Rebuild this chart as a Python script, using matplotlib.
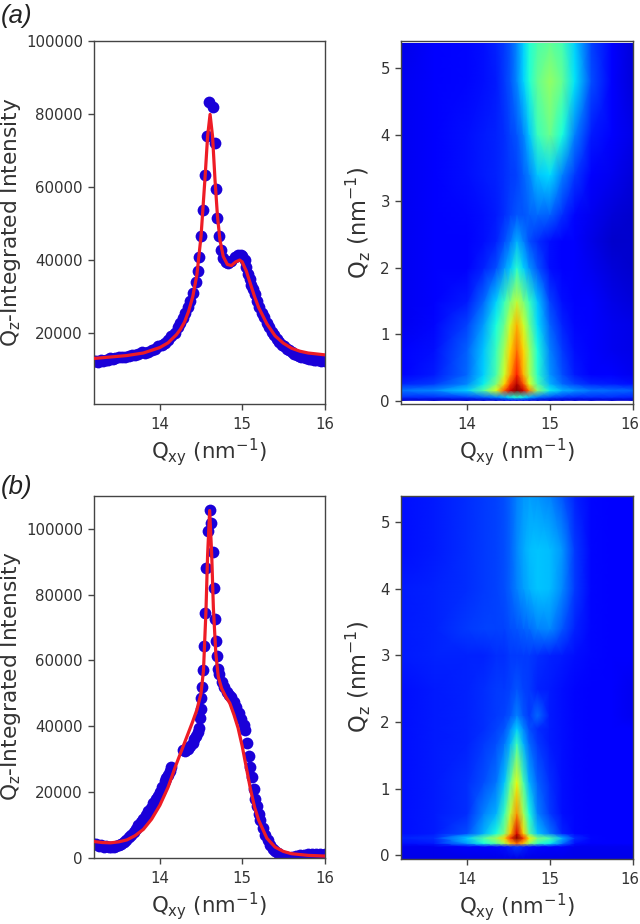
import matplotlib
matplotlib.use('Agg')
import matplotlib.pyplot as plt
from matplotlib.transforms import ScaledTranslation

W, H = 640, 924
TEXT = '#333333'
EDGE = '#444444'

# panel (a), line cut
a_points_x = [13.2, 13.22, 13.25, 13.28, 13.31, 13.34, 13.37, 13.4, 13.43, 13.46, 13.5, 13.54, 13.58, 13.62, 13.66,
              13.7, 13.74, 13.78, 13.82, 13.86, 13.9, 13.94, 13.98, 14.02, 14.06, 14.1, 14.14, 14.18, 14.22, 14.25,
              14.28, 14.31, 14.34, 14.37, 14.4, 14.435, 14.465, 14.475, 14.495, 14.53, 14.55, 14.57, 14.6, 14.645,
              14.665, 14.685, 14.695, 14.72, 14.745, 14.77, 14.8, 14.83, 14.87, 14.91, 14.95, 14.98, 15.0, 15.03,
              15.05, 15.07, 15.09, 15.11, 15.13, 15.15, 15.18, 15.21, 15.24, 15.27, 15.3, 15.33, 15.36, 15.39, 15.42,
              15.45, 15.48, 15.51, 15.54, 15.57, 15.6, 15.63, 15.66, 15.69, 15.72, 15.75, 15.78, 15.81, 15.84, 15.87,
              15.9, 15.93, 15.96, 16.0]
a_points_y = [12200, 12400, 12100, 12500, 12200, 12700, 12600, 13000, 12800, 13200, 13300, 13500, 13400, 13800, 14000,
              13900, 14300, 14700, 14600, 14900, 15300, 15600, 16300, 16800, 17300, 18200, 19200, 20100, 21500, 22800,
              24000, 25500, 27000, 28800, 31000, 33900, 36900, 40800, 46500, 53800, 63400, 74100, 83500, 82000,
              72100, 59500, 51500, 46500, 42900, 40500, 39500, 39200, 39800, 40800, 41300, 41500, 41000, 40000,
              38000, 36200, 34800, 33200, 32000, 30600, 28800, 27000, 25600, 24300, 22800, 21500, 20300, 19400, 18300,
              17600, 16800, 16300, 15500, 15200, 14700, 14300, 14000, 13800, 13500, 13300, 13200, 12900, 12900, 12700,
              12500, 12500, 12300, 12200]
a_fit_x = [13.2, 13.6, 13.8, 14.0, 14.1, 14.2, 14.25, 14.3, 14.35, 14.4, 14.45, 14.5, 14.55, 14.58, 14.61, 14.64,
           14.67, 14.7, 14.73, 14.77, 14.82, 14.87, 14.92, 14.97, 15.0, 15.05, 15.1, 15.15, 15.2, 15.3, 15.4, 15.5,
           15.6, 15.7, 15.8, 16.0]
a_fit_y = [13000, 13800, 14500, 16000, 17300, 19500, 21000, 23000, 26000, 30000, 36000, 46500, 63000, 74000, 80000,
           74000, 62000, 52000, 45500, 41000, 38800, 38500, 39500, 40000, 39500, 37000, 33500, 30000, 27000, 22500,
           19200, 17200, 15800, 15000, 14500, 14000]

# panel (b), line cut
b_points_x = [13.2, 13.23, 13.26, 13.29, 13.32, 13.35, 13.38, 13.41, 13.44, 13.47, 13.5, 13.53, 13.56, 13.59, 13.62,
              13.65, 13.68, 13.71, 13.74, 13.77, 13.8, 13.83, 13.86, 13.89, 13.92, 13.95, 13.98, 14.0, 14.03, 14.06,
              14.08, 14.1, 14.12, 14.14, 14.28, 14.31, 14.34, 14.37, 14.4, 14.42, 14.44, 14.46, 14.47, 14.483, 14.495,
              14.505, 14.51, 14.53, 14.535, 14.55, 14.565, 14.59, 14.605, 14.62, 14.645, 14.66, 14.67, 14.685, 14.695,
              14.705, 14.72, 14.75, 14.78, 14.81, 14.84, 14.87, 14.9, 14.93, 14.96, 14.99, 15.02, 15.04, 15.06, 15.08,
              15.1, 15.12, 15.14, 15.16, 15.18, 15.2, 15.22, 15.25, 15.28, 15.31, 15.34, 15.37, 15.4, 15.43, 15.46,
              15.5, 15.55, 15.6, 15.65, 15.7, 15.75, 15.8, 15.85, 15.9, 15.95, 16.0]
b_points_y = [4300, 4100, 3700, 3900, 3400, 3500, 3200, 3300, 3300, 3500, 3800, 4300, 5000, 5400, 6300,
              7000, 7800, 8800, 10000, 10800, 11900, 13100, 14300, 15300, 16600, 17800, 18900, 20000, 21700, 23300,
              24300, 25300, 26400, 27500, 32700, 32500, 33000, 34000, 35000, 36200, 37000, 38300, 39500, 42500, 45200,
              48600, 52000, 57200, 64500, 74400, 88000, 99400, 105800, 101700, 92800, 82000, 72700, 66000, 61400,
              57500, 56000, 53500, 52000, 50500, 49500, 49000, 47500, 45800, 44000, 42300, 40300, 39000, 35000, 31000,
              27500, 24500, 21000, 18000, 15800, 13500, 11500, 9000, 7000, 5400, 3800, 2800, 2000, 1400, 1000,
              500, 300, 400, 500, 800, 1000, 1200, 1200, 1300, 1200, 1200]
b_fit_x = [13.2, 13.3, 13.4, 13.5, 13.6, 13.7, 13.8, 13.9, 14.0, 14.1, 14.2, 14.3, 14.4, 14.45, 14.5, 14.53, 14.56,
           14.58, 14.605, 14.63, 14.65, 14.68, 14.71, 14.75, 14.8, 14.85, 14.9, 14.95, 15.0, 15.05, 15.1, 15.15,
           15.2, 15.3, 15.4, 15.5, 15.6, 15.8, 16.0]
b_fit_y = [5000, 4700, 4600, 4900, 5500, 6800, 8700, 11800, 16000, 21500, 28500, 35000, 41500, 45000, 50000, 57000,
           75000, 92000, 105500, 92000, 76000, 62000, 55000, 51500, 49000, 47000, 43500, 39500, 34000, 27500, 21000,
           15500, 11500, 6000, 3300, 2000, 1300, 800, 600]

# maps: colour level read at each grid node
map_x = [13.2, 13.6, 14.0, 14.2, 14.35, 14.45, 14.52, 14.6, 14.68, 14.75, 14.85, 15.0, 15.15, 15.3, 15.5, 15.75, 16.0]

a_map_z = [0.01, 0.06, 0.16, 0.26, 0.4, 0.77, 1.15, 1.5, 2.0, 2.4, 2.8, 3.4, 4.0, 4.8, 5.37]
a_map = [
    [.07, .07, .07, .07, .07, .08, .09, .09, .09, .08, .07, .07, .07, .07, .07, .07, .07],
    [.17, .17, .19, .22, .26, .30, .36, .40, .36, .30, .24, .20, .18, .17, .17, .17, .16],
    [.24, .26, .33, .45, .62, .82, .93, 1.0, .93, .78, .52, .36, .30, .27, .24, .23, .22],
    [.16, .18, .26, .36, .50, .68, .84, .95, .82, .62, .44, .30, .23, .19, .16, .15, .14],
    [.12, .15, .23, .33, .44, .60, .74, .88, .72, .57, .40, .27, .20, .15, .12, .11, .10],
    [.11, .14, .22, .32, .42, .55, .68, .79, .68, .55, .38, .25, .18, .14, .11, .10, .09],
    [.10, .13, .19, .28, .38, .48, .60, .72, .60, .48, .34, .22, .16, .13, .11, .10, .09],
    [.10, .12, .15, .23, .33, .42, .50, .58, .50, .42, .32, .19, .14, .12, .11, .09, .08],
    [.10, .11, .12, .16, .20, .27, .32, .40, .33, .27, .21, .14, .12, .11, .10, .08, .07],
    [.10, .11, .12, .14, .16, .20, .24, .30, .25, .20, .17, .14, .12, .11, .09, .07, .07],
    [.10, .11, .13, .14, .15, .17, .19, .21, .21, .22, .23, .22, .17, .13, .10, .08, .07],
    [.10, .12, .14, .15, .16, .17, .18, .19, .22, .25, .32, .34, .25, .18, .12, .10, .08],
    [.10, .12, .14, .15, .16, .17, .19, .21, .25, .32, .42, .48, .38, .25, .15, .11, .09],
    [.10, .12, .13, .14, .15, .18, .21, .26, .33, .39, .47, .53, .47, .35, .20, .12, .08],
    [.09, .11, .13, .14, .16, .18, .21, .26, .33, .39, .44, .47, .43, .33, .19, .12, .08],
]

b_map_z = [-0.05, 0.13, 0.18, 0.26, 0.33, 0.63, 1.1, 1.68, 1.9, 2.1, 2.5, 3.0, 3.4, 4.0, 4.6, 5.4]
b_map = [
    [.09, .09, .09, .09, .09, .09, .09, .09, .09, .09, .09, .09, .09, .09, .09, .09, .09],
    [.10, .10, .11, .12, .13, .14, .16, .18, .16, .14, .13, .12, .11, .10, .10, .10, .10],
    [.14, .15, .28, .38, .46, .56, .70, .80, .70, .54, .42, .36, .24, .14, .12, .11, .11],
    [.16, .17, .33, .45, .55, .68, .85, 1.0, .85, .65, .50, .44, .30, .17, .13, .12, .11],
    [.14, .15, .20, .30, .38, .50, .70, .92, .68, .46, .32, .24, .16, .13, .12, .11, .11],
    [.14, .15, .17, .25, .30, .42, .58, .75, .55, .38, .25, .18, .14, .13, .12, .11, .11],
    [.14, .15, .17, .20, .24, .32, .46, .63, .44, .30, .22, .17, .14, .13, .12, .11, .11],
    [.14, .15, .16, .18, .20, .24, .30, .42, .30, .23, .18, .15, .14, .13, .12, .11, .11],
    [.14, .15, .16, .17, .19, .21, .26, .33, .26, .20, .17, .15, .14, .13, .12, .11, .11],
    [.14, .15, .16, .17, .18, .19, .21, .25, .21, .18, .23, .15, .14, .13, .12, .11, .10],
    [.14, .15, .16, .17, .18, .18, .19, .21, .19, .18, .16, .15, .14, .13, .12, .11, .10],
    [.15, .16, .16, .16, .17, .17, .18, .18, .18, .18, .17, .16, .15, .14, .13, .12, .11],
    [.15, .16, .18, .19, .19, .19, .20, .21, .22, .23, .25, .26, .21, .16, .13, .12, .11],
    [.15, .16, .17, .18, .19, .20, .22, .25, .28, .30, .32, .31, .26, .18, .13, .12, .11],
    [.14, .15, .17, .18, .19, .20, .22, .26, .29, .31, .32, .31, .27, .18, .13, .12, .11],
    [.14, .15, .17, .18, .19, .20, .22, .25, .27, .28, .27, .25, .21, .16, .13, .12, .11],
]

a_yticks = [20000, 40000, 60000, 80000, 100000]
b_yticks = [0, 20000, 40000, 60000, 80000, 100000]
x_ticks = [14, 15, 16]
z_ticks = [0, 1, 2, 3, 4, 5]

xlabel = r'Q$_{\mathrm{xy}}$ (nm$^{-1}$)'
zlabel = r'Q$_{\mathrm{z}}$ (nm$^{-1}$)'
ilabel = r'Q$_{\mathrm{z}}$-Integrated Intensity'


def px_axes(fig, left, right, top, bottom):
    ax = fig.add_axes([left / W, 1 - bottom / H, (right - left) / W, (bottom - top) / H])
    for s in ax.spines.values():
        s.set_color(EDGE)
        s.set_linewidth(1.0)
    ax.tick_params(labelsize=10.8, labelcolor=TEXT, color=EDGE, length=4.5, width=1.0)
    ax.tick_params(axis='x', pad=5)
    ax.set_xlim(13.2, 16)
    ax.set_xticks(x_ticks)
    ax.set_xlabel(xlabel, fontsize=15.3, color=TEXT, labelpad=3)
    return ax


def line_panel(fig, top, bottom, px, py, fx, fy, ylim, yticks):
    ax = px_axes(fig, 94, 324.5, top, bottom)
    ax.scatter(px, py, s=72, color='#1a00d8', linewidths=0, zorder=2)
    ax.plot(fx, fy, color='#ee1c25', linewidth=2.3, zorder=3)
    ax.set_ylim(*ylim)
    ax.set_yticks(yticks)
    ax.set_ylabel(ilabel, fontsize=15.6, color=TEXT, labelpad=2)


def map_panel(fig, top, bottom, z, values, ylim):
    ax = px_axes(fig, 401, 632.7, top, bottom)
    ax.pcolormesh(map_x, z, values, cmap='jet', vmin=0, vmax=1, shading='gouraud', rasterized=True)
    ax.set_ylim(*ylim)
    ax.set_yticks(z_ticks)
    ax.set_ylabel(zlabel, fontsize=16.3, color=TEXT, labelpad=5)
    # the 16 sits at the very edge of the page, pull it in a little
    last = ax.get_xticklabels()[-1]
    last.set_transform(last.get_transform() + ScaledTranslation(-2.5 / 100, 0, fig.dpi_scale_trans))


fig = plt.figure(figsize=(W / 100, H / 100), dpi=100)

line_panel(fig, 41.5, 404, a_points_x, a_points_y, a_fit_x, a_fit_y, (500, 100000), a_yticks)
map_panel(fig, 41.5, 404, a_map_z, a_map, (-0.045, 5.4))
line_panel(fig, 495.7, 858, b_points_x, b_points_y, b_fit_x, b_fit_y, (0, 110000), b_yticks)
map_panel(fig, 495.7, 858.5, b_map_z, b_map, (-0.05, 5.4))

for label, y in [('(a)', 16), ('(b)', 487)]:
    fig.text(1 / W, 1 - y / H, label, fontsize=18.5, family='Liberation Sans', style='italic',
             color='#222222', va='center', ha='left')

fig.savefig('out.png', dpi=100)
